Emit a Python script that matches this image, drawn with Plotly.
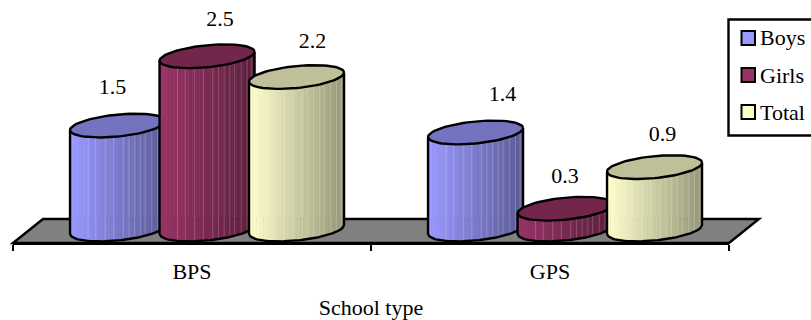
import math
import plotly.graph_objects as go

categories = ["BPS", "GPS"]
series_names = ["Boys", "Girls", "Total"]
boys = [1.5, 1.4]
girls = [2.5, 0.3]
total = [2.2, 0.9]
series_values = [boys, girls, total]

axis_title = "School type"
base_colors = [(153, 153, 255), (153, 51, 102), (255, 255, 204)]

W, H = 811, 320
PLOT_L, PLOT_R, AXIS_Y = 13, 729, 243
PX_PER_CAT = (PLOT_R - PLOT_L) / 2
PX_PER_VAL = 69.3
ZERO_PX = 229.5
SERIF = "Liberation Serif"
FS = 22
LW = 2.4

SPACING = 0.25
SHIFT = 0.042
A = 47.5 / PX_PER_CAT
B = 11 / PX_PER_VAL
K = 4.5 / PX_PER_VAL
N_STRIPS = 26
LIGHT_LINES = [0.19, 0.27, 0.37, 0.46, 0.56, 0.62, 0.68, 0.74, 0.79, 0.86, 0.92, 0.97]
# label nudges, in pixels, per category and series
LABEL_DX = [[-5, 13, 16], [27, 0, 8]]
LABEL_DY = [[37, 36, 35], [37, 31, 32]]
LEGEND_ROWS_PX = [38, 75, 112]


def shade(c, f):
    return "rgb(%d,%d,%d)" % tuple(round(v * f) for v in c)


def lower(f):
    return -B * math.sqrt(max(0, 1 - f * f)) + K * f


fig = go.Figure()

for cat_i in range(len(categories)):
    for s_i, values in enumerate(series_values):
        v = values[cat_i]
        cx = cat_i + 0.5 + (s_i - 1) * SPACING + SHIFT
        col = base_colors[s_i]
        for j in range(N_STRIPS):
            f0 = -1 + 2 * j / N_STRIPS
            f1 = -1 + 2 * (j + 1) / N_STRIPS
            c = shade(col, 1 - 0.40 * (j / (N_STRIPS - 1)))
            n = 5
            fs = [f0 + (f1 - f0) * q / n for q in range(n + 1)]
            xs = [cx + A * f for f in fs]
            ys = [lower(f) for f in fs]
            fig.add_trace(go.Scatter(
                x=xs + xs[::-1] + [xs[0]],
                y=ys + [v + K * f for f in fs[::-1]] + [ys[0]],
                mode="lines", fill="toself", fillcolor=c,
                line=dict(color=c, width=0.6),
                hoverinfo="skip", showlegend=False))
        lx, ly = [], []
        for p in LIGHT_LINES:
            f = -1 + 2 * p
            lx += [cx + A * f, cx + A * f, None]
            ly += [lower(f), v + lower(f), None]
        fig.add_trace(go.Scatter(x=lx, y=ly, mode="lines",
                                 line=dict(color="rgba(255,255,255,0.2)", width=1),
                                 hoverinfo="skip", showlegend=False))
        fs = [-1 + 2 * q / 60 for q in range(61)]
        fig.add_trace(go.Scatter(
            x=[cx - A] + [cx + A * f for f in fs] + [cx + A],
            y=[v - K] + [lower(f) for f in fs] + [v + K],
            mode="lines", line=dict(color="black", width=LW),
            hoverinfo="skip", showlegend=False))
        ts = [2 * math.pi * q / 72 for q in range(73)]
        fig.add_trace(go.Scatter(
            x=[cx + A * math.cos(t) for t in ts],
            y=[v + B * math.sin(t) + K * math.cos(t) for t in ts],
            mode="lines", fill="toself", fillcolor=shade(col, 0.75),
            line=dict(color="black", width=LW),
            hoverinfo="skip", showlegend=False))

for cat_i in range(len(categories)):
    for s_i, values in enumerate(series_values):
        v = values[cat_i]
        cx = cat_i + 0.5 + (s_i - 1) * SPACING + SHIFT
        fig.add_trace(go.Scatter(
            x=[cx + LABEL_DX[cat_i][s_i] / PX_PER_CAT],
            y=[v + LABEL_DY[cat_i][s_i] / PX_PER_VAL],
            mode="text", text=[f"{v:.1f}"], textposition="middle center",
            textfont=dict(family=SERIF, size=FS, color="black"),
            hoverinfo="skip", showlegend=False))


def px(x):
    return x / W


def py(y):
    return (AXIS_Y - y) / AXIS_Y


floor = [(13, 243), (43, 219), (759, 219), (729, 243)]
floor_path = "M " + " L ".join(f"{px(a):.5f},{py(b):.5f}" for a, b in floor) + " Z"

shapes = [dict(type="path", xref="paper", yref="paper", path=floor_path,
               fillcolor="#808080", line=dict(color="black", width=LW), layer="below"),
          dict(type="rect", xref="paper", yref="paper",
               x0=px(728.5), x1=px(820), y0=py(135.5), y1=py(19.5),
               fillcolor="white", line=dict(color="black", width=LW), layer="above")]
annotations = []
for name, col, row in zip(series_names, base_colors, LEGEND_ROWS_PX):
    shapes.append(dict(type="rect", xref="paper", yref="paper",
                       x0=px(741.5), x1=px(755), y0=py(row + 7), y1=py(row - 7),
                       fillcolor=shade(col, 1), line=dict(color="black", width=2), layer="above"))
    annotations.append(dict(xref="paper", yref="paper", x=px(760), y=py(row),
                            xanchor="left", yanchor="middle", text=name, showarrow=False,
                            xshift=-2,
                            font=dict(family=SERIF, size=FS, color="black")))

fig.update_layout(
    width=W, height=H, autosize=False,
    margin=dict(l=0, r=0, t=0, b=H - AXIS_Y, autoexpand=False),
    paper_bgcolor="white", plot_bgcolor="rgba(0,0,0,0)",
    font=dict(family=SERIF, size=FS, color="black"),
    shapes=shapes, annotations=annotations, showlegend=False,
    xaxis=dict(
        domain=[PLOT_L / W, PLOT_R / W], range=[0, 2],
        tickmode="array", tickvals=[0.5, 1.5], ticktext=categories,
        ticks="outside", ticklen=7, tickcolor="rgba(0,0,0,0)",
        minor=dict(tickmode="array", tickvals=[0, 1, 2], ticks="outside",
                   ticklen=6, tickwidth=2, tickcolor="black"),
        showline=True, linecolor="black", linewidth=LW,
        showgrid=False, zeroline=False, fixedrange=True,
        title=dict(text=axis_title, standoff=25,
                   font=dict(family=SERIF, size=FS)),
        tickfont=dict(family=SERIF, size=FS),
    ),
    yaxis=dict(
        range=[(ZERO_PX - AXIS_Y) / PX_PER_VAL, ZERO_PX / PX_PER_VAL],
        visible=False, fixedrange=True,
    ),
)

fig.write_html("out.html", config={"displayModeBar": False},
               post_script="document.body.style.margin='0';document.body.style.overflow='hidden';")
